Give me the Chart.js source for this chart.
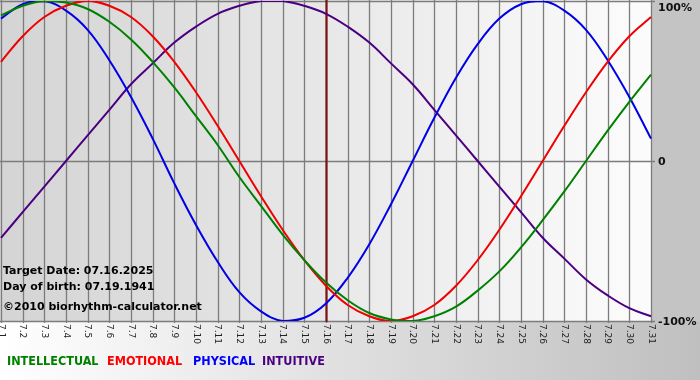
<!DOCTYPE html>
<html><head><meta charset="utf-8">
<script src="https://cdn.jsdelivr.net/npm/chart.js@4.4.1/dist/chart.umd.min.js"></script>
<style>html,body{margin:0;padding:0;background:#fff}#wrap{width:700px;height:380px;position:relative}</style>
</head><body><div id="wrap"><canvas id="c" width="700" height="380"></canvas></div>
<script>
const days = ['7.1','7.2','7.3','7.4','7.5','7.6','7.7','7.8','7.9','7.10','7.11','7.12','7.13','7.14','7.15','7.16','7.17','7.18','7.19','7.20','7.21','7.22','7.23','7.24','7.25','7.26','7.27','7.28','7.29','7.30','7.31'];
const intellectual = [91, 97, 100, 99, 95, 87, 76, 62, 46, 28, 10, -10, -28, -46, -62, -76, -87, -95, -99, -100, -97, -91, -81, -69, -54, -37, -19, 0, 19, 37, 54];
const emotional = [62, 78, 90, 97, 100, 97, 90, 78, 62, 43, 22, 0, -22, -43, -62, -78, -90, -97, -100, -97, -90, -78, -62, -43, -22, 0, 22, 43, 62, 78, 90];
const physical = [89, 98, 100, 94, 82, 63, 40, 14, -14, -40, -63, -82, -94, -100, -98, -89, -73, -52, -27, 0, 27, 52, 73, 89, 98, 100, 94, 82, 63, 40, 14];
const intuitive = [-48, -32, -16, 0, 16, 32, 48, 61, 74, 84, 92, 97, 100, 100, 97, 92, 84, 74, 61, 48, 32, 16, 0, -16, -32, -48, -61, -74, -84, -92, -97];
const seriesNames = ['INTELLECTUAL', 'EMOTIONAL', 'PHYSICAL', 'INTUITIVE'];
const yTickValues = [100, 0, -100];
const yTickLabels = ['100%', '0', '-100%'];
const targetDay = '7.16';
const infoLines = ['Target Date: 07.16.2025', 'Day of birth: 07.19.1941', '\u00A92010 biorhythm-calculator.net'];

const lineColors = ['#008000', '#f00000', '#0000e6', '#4b0082'];
const legendColors = ['#008000', '#ff0000', '#0000ff', '#4b0082'];

const decor = {
  id: 'decor',
  beforeDraw(chart) {
    const ctx = chart.ctx, W = chart.width, H = chart.height, a = chart.chartArea;
    const xs = chart.scales.x, ys = chart.scales.y;
    ctx.save();
    let g = ctx.createLinearGradient(0, 0, W, 0);
    g.addColorStop(0, '#ffffff');
    g.addColorStop(1, '#bfbfbf');
    ctx.fillStyle = g; ctx.fillRect(0, 0, W, H);
    ctx.fillStyle = '#c4c4c4'; ctx.fillRect(a.right, 0, W - a.right, a.bottom + 1);
    g = ctx.createLinearGradient(a.left, 0, a.right, 0);
    g.addColorStop(0, '#d4d4d4');
    g.addColorStop(1, '#fcfcfc');
    ctx.fillStyle = g; ctx.fillRect(a.left - 1, a.top - 1, a.right - a.left + 1, a.bottom - a.top + 1);
    ctx.strokeStyle = '#7c7c7c'; ctx.lineWidth = 1.3;
    days.forEach((d, i) => {
      const x = Math.round(xs.getPixelForValue(i)) + 0.5;
      ctx.beginPath(); ctx.moveTo(x, a.top - 1); ctx.lineTo(x, a.bottom + 2); ctx.stroke();
    });
    yTickValues.forEach(v => {
      const y = Math.round(ys.getPixelForValue(v)) + 0.5;
      ctx.beginPath(); ctx.moveTo(a.left - 1, y); ctx.lineTo(a.right + 4, y); ctx.stroke();
    });
    const ti = days.indexOf(targetDay);
    const tx = Math.round(xs.getPixelForValue(ti)) + 0.5;
    ctx.strokeStyle = '#7a1414'; ctx.lineWidth = 2.2;
    ctx.beginPath(); ctx.moveTo(tx, a.top - 1); ctx.lineTo(tx, a.bottom + 1); ctx.stroke();
    ctx.restore();
  },
  afterDraw(chart) {
    const ctx = chart.ctx, a = chart.chartArea;
    const xs = chart.scales.x, ys = chart.scales.y;
    ctx.save();
    ctx.fillStyle = '#222';
    ctx.font = '9px "DejaVu Sans"';
    ctx.textAlign = 'left'; ctx.textBaseline = 'middle';
    days.forEach((d, i) => {
      const x = xs.getPixelForValue(i);
      ctx.save(); ctx.translate(x, a.bottom + 3); ctx.rotate(Math.PI / 2);
      ctx.fillText(d, 0, 0); ctx.restore();
    });
    ctx.fillStyle = '#111';
    ctx.font = 'bold 11px "DejaVu Sans"';
    yTickValues.forEach((v, i) => {
      const y = Math.max(8, ys.getPixelForValue(v) + 1);
      ctx.fillText(yTickLabels[i], a.right + 7, y);
    });
    ctx.fillStyle = '#000';
    ctx.font = 'bold 11px "DejaVu Sans"';
    const infoY = [271, 287, 307];
    infoLines.forEach((t, i) => ctx.fillText(t, 3, infoY[i]));
    ctx.font = 'bold 12.5px "DejaVu Sans Condensed"';
    const lx = [7, 107, 193, 262];
    seriesNames.forEach((n, i) => { ctx.fillStyle = legendColors[i]; ctx.fillText(n, lx[i], 362); });
    ctx.restore();
  }
};

const mk = (label, data, color) => ({ label, data, borderColor: color, borderWidth: 2, pointRadius: 0, fill: false, tension: 0.4 });

new Chart(document.getElementById('c'), {
  type: 'line',
  data: {
    labels: days,
    datasets: [
      mk(seriesNames[0], intellectual, lineColors[0]),
      mk(seriesNames[1], emotional, lineColors[1]),
      mk(seriesNames[2], physical, lineColors[2]),
      mk(seriesNames[3], intuitive, lineColors[3])
    ]
  },
  options: {
    responsive: false,
    animation: false,
    devicePixelRatio: 1,
    layout: { padding: { left: 1, top: 1, right: 49, bottom: 59 } },
    plugins: { legend: { display: false }, tooltip: { enabled: false } },
    scales: {
      x: { display: false },
      y: { display: false, min: -100, max: 100 }
    }
  },
  plugins: [decor]
});
</script>
</body></html>
